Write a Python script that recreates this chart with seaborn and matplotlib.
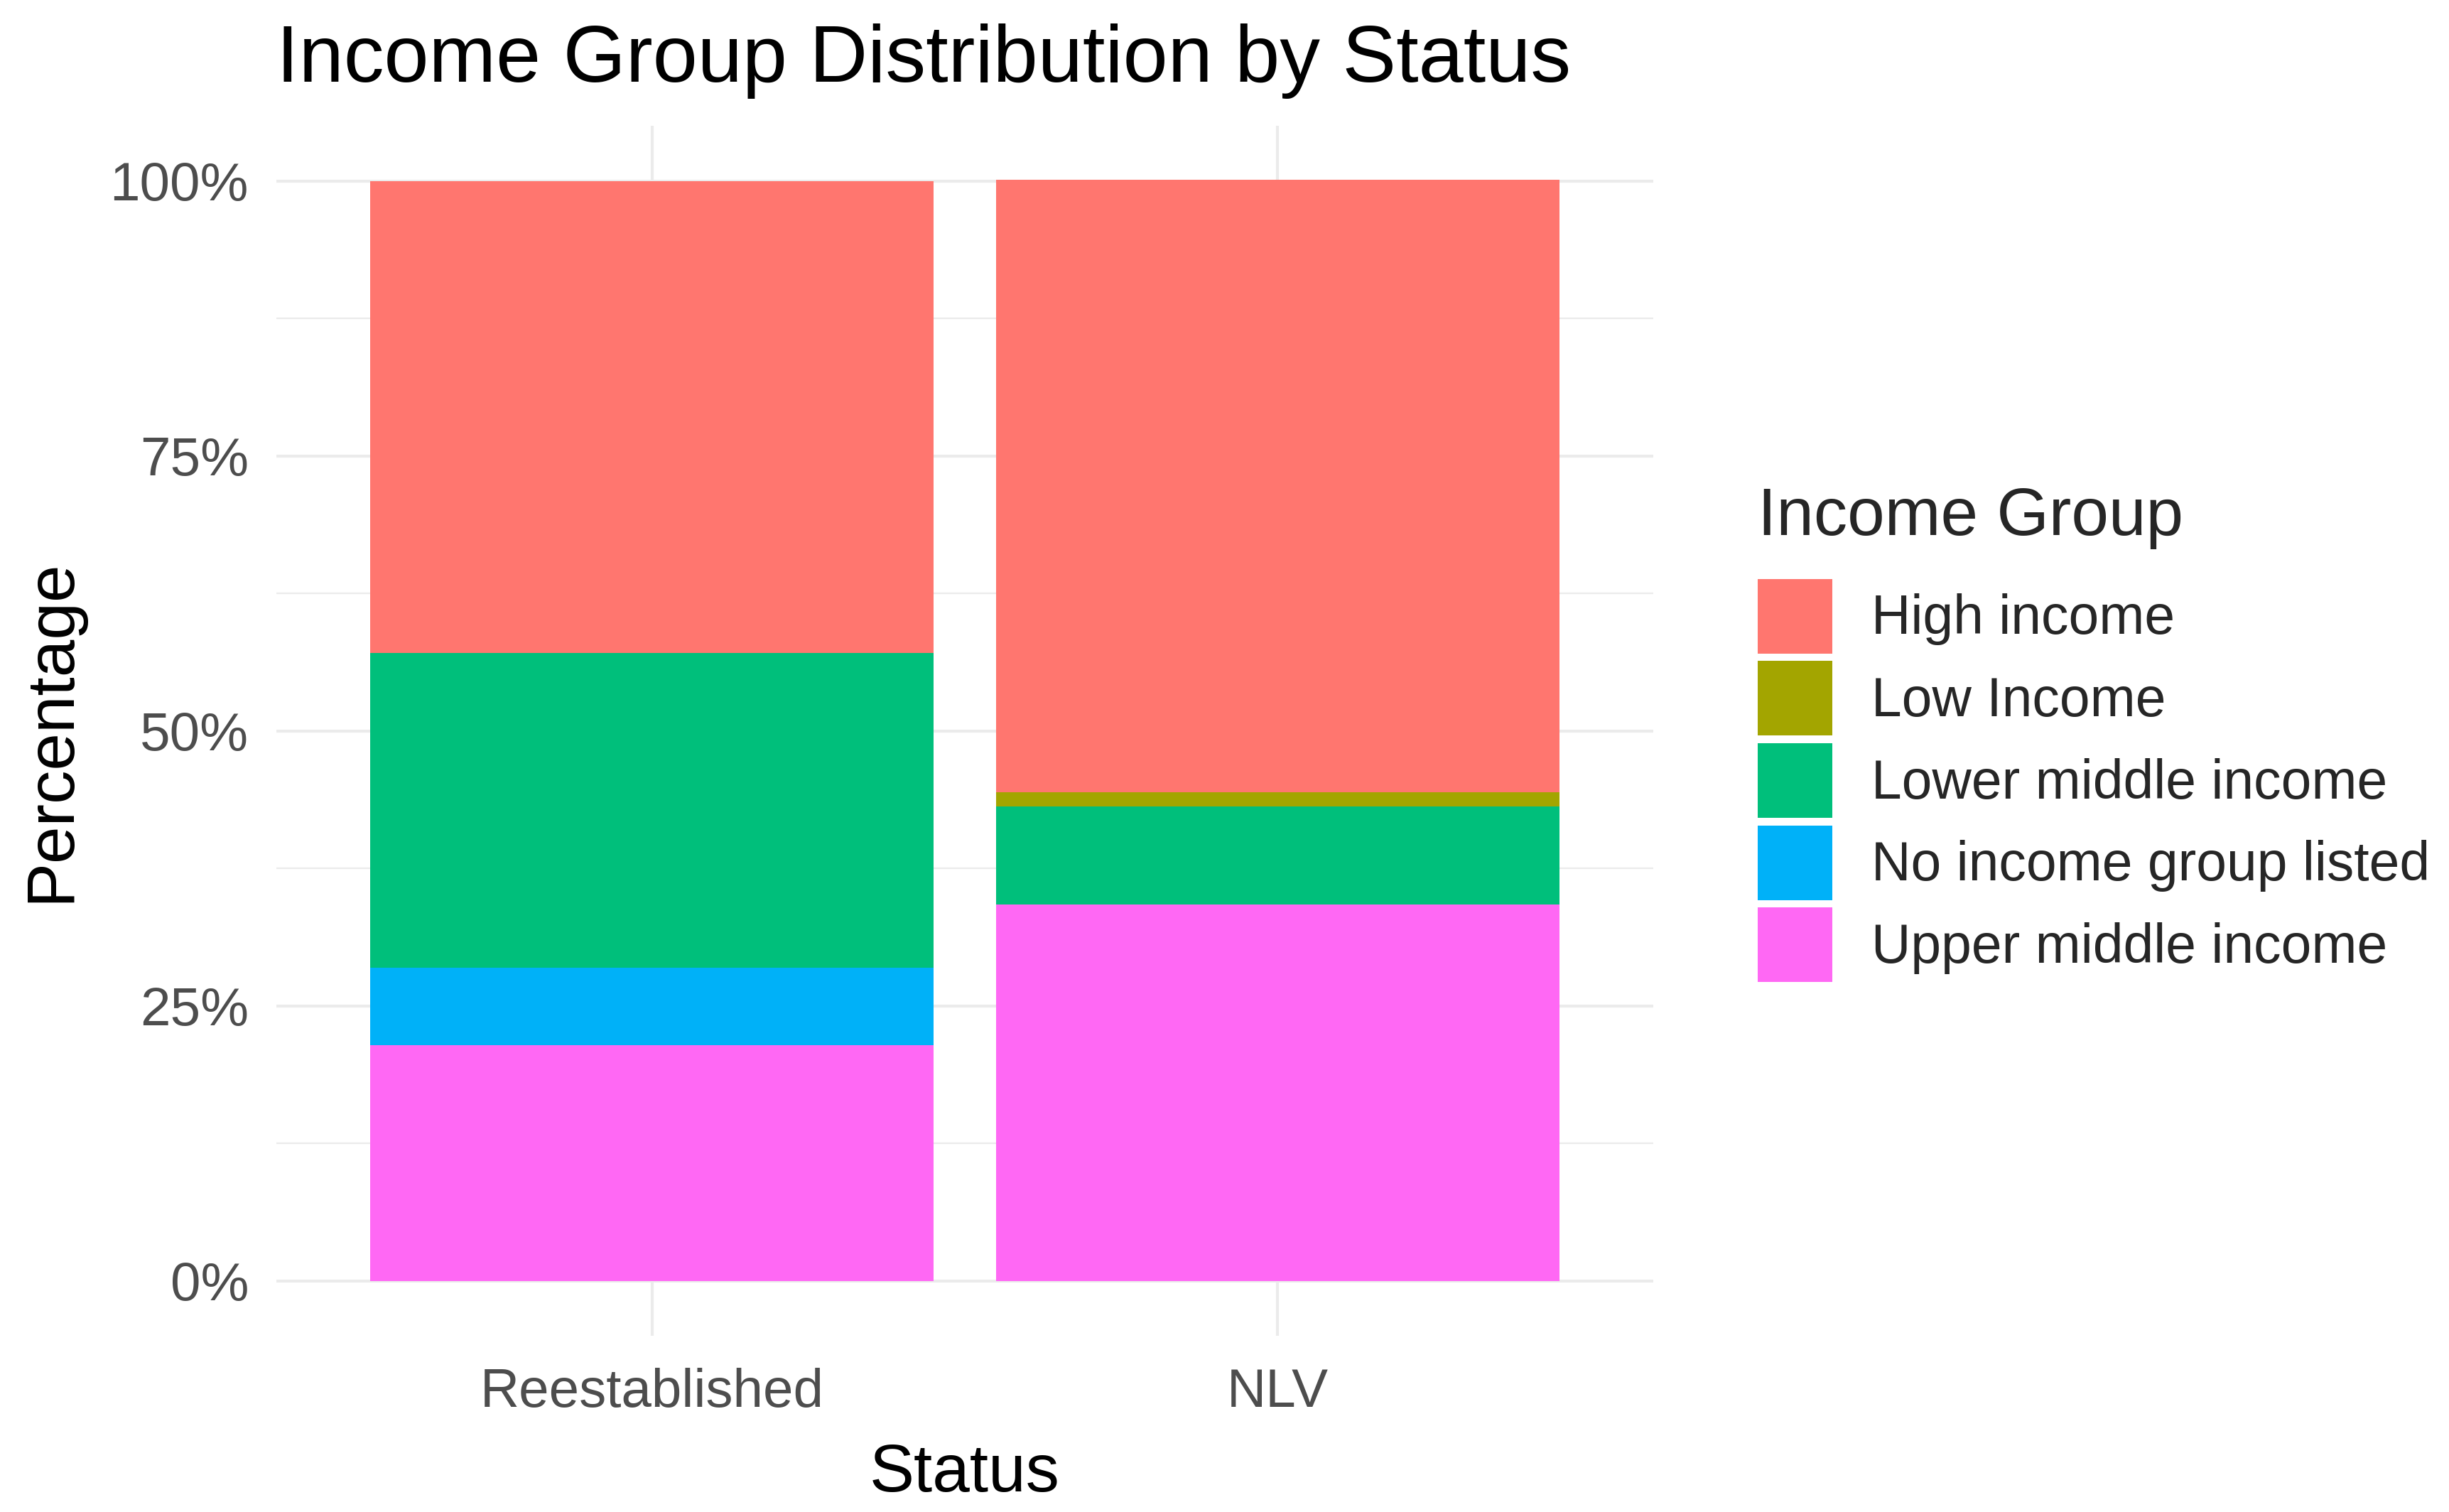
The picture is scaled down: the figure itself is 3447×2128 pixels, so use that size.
import numpy as np
import pandas as pd
import seaborn as sns
import matplotlib.pyplot as plt
from matplotlib.patches import Patch

# data (percent of each status)
statuses = ["Reestablished", "NLV"]
income_groups = ["High income", "Low Income", "Lower middle income",
                 "No income group listed", "Upper middle income"]
high_income = [42.9, 55.7]
low_income = [0.0, 1.3]
lower_middle = [28.6, 8.9]
no_group = [7.1, 0.0]
upper_middle = [21.4, 34.2]

colors = ["#FF766F", "#A3A500", "#00BF7B", "#00B1F8", "#FF68F4"]

sns.set_theme(style="white")
plt.rcParams['font.family'] = ['Liberation Sans', 'DejaVu Sans']

df = pd.DataFrame({
    "Status": statuses,
    "High income": high_income,
    "Low Income": low_income,
    "Lower middle income": lower_middle,
    "No income group listed": no_group,
    "Upper middle income": upper_middle,
})

fig = plt.figure(figsize=(17.24, 10.64), dpi=200)
ax = fig.add_axes([0.1128, 0.1165, 0.5621, 0.8002])

# stack from the bottom: upper middle, no group, lower middle, low, high
stack_order = income_groups[::-1]
cum = df[stack_order].cumsum(axis=1)

# draw tallest cumulative first so lower layers sit on top
for grp in income_groups:
    col = colors[income_groups.index(grp)]
    sns.barplot(x=df["Status"], y=cum[grp], order=statuses, color=col,
                width=0.9, saturation=1, linewidth=0, ax=ax, zorder=3)

# grid like theme_minimal
ax.set_axisbelow(True)
ax.set_yticks([0, 25, 50, 75, 100])
ax.set_yticks([12.5, 37.5, 62.5, 87.5], minor=True)
ax.set_yticklabels([f"{v}%" for v in [0, 25, 50, 75, 100]])
ax.grid(True, which="major", axis="both", color="#EBEBEB", lw=1.5, zorder=0)
ax.grid(True, which="minor", axis="y", color="#EBEBEB", lw=0.8, zorder=0)
ax.set_ylim(-5, 105)
ax.set_xlim(-0.6, 1.6)
for s in ax.spines.values():
    s.set_visible(False)
ax.tick_params(axis="both", which="both", length=0, labelsize=27.5,
               labelcolor="#4D4D4D")
ax.tick_params(axis="y", pad=14)
ax.tick_params(axis="x", pad=16)

ax.set_xlabel("Status", fontsize=34, color="black")
ax.set_ylabel("Percentage", fontsize=34, color="black")
ax.xaxis.set_label_coords(0.5, -0.114)
ax.xaxis.label.set_va("center")
ax.yaxis.set_label_coords(-0.163, 0.5)
ax.yaxis.label.set_va("center")

fig.text(0.1128, 0.946, "Income Group Distribution by Status",
         fontsize=40.8, color="black", ha="left", va="baseline")

handles = [Patch(facecolor=c, edgecolor="none") for c in colors]
leg = fig.legend(handles, income_groups, title="Income Group",
                 loc="upper left", bbox_to_anchor=(0.7175, 0.6785),
                 frameon=False, fontsize=27.7, title_fontsize=34,
                 handlelength=1.36, handleheight=1.72, handletextpad=0.72,
                 labelspacing=0.14, borderpad=0, borderaxespad=0)
leg._legend_box.align = "left"
leg._legend_box.sep = 15

fig.savefig("out.png", dpi=200, facecolor="white")
